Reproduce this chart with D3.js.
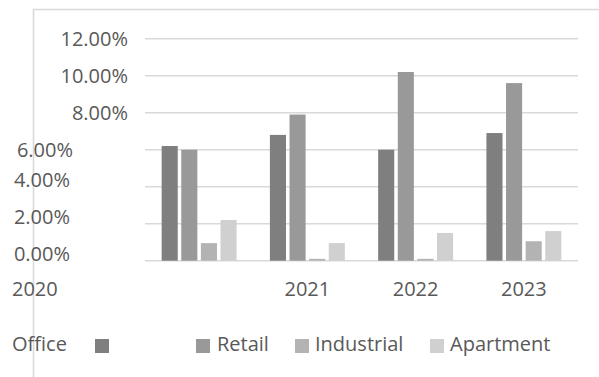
<!DOCTYPE html>
<html>
<head>
<meta charset="utf-8">
<script src="https://cdn.jsdelivr.net/npm/d3@7"></script>
<style>
  html, body { margin: 0; padding: 0; background: #fff; }
  svg { display: block; }
  text { font-family: "Open Sans", "Liberation Sans", sans-serif; font-size: 20px; fill: #595959; }
</style>
</head>
<body>
<svg id="chart" width="599" height="377"></svg>
<script>
// Vacancy rates by property type, 2020-2023
const years = ["2020", "2021", "2022", "2023"];
const seriesNames = ["Office", "Retail", "Industrial", "Apartment"];
const office = [6.2, 6.8, 6.0, 6.9];
const retail = [6.0, 7.9, 10.2, 9.6];
const industrial = [0.95, 0.1, 0.1, 1.05];
const apartment = [2.2, 0.95, 1.5, 1.6];
const yTicks = [0, 2, 4, 6, 8, 10, 12];
const tickFormat = v => v.toFixed(2) + "%";

const seriesValues = [office, retail, industrial, apartment];
const colors = ["#7f7f7f", "#999999", "#b3b3b3", "#d0d0d0"];

const svg = d3.select("#chart");

// Outer frame (top and left edges are visible)
svg.append("line").attr("x1", 33).attr("x2", 599).attr("y1", 9.5).attr("y2", 9.5)
  .attr("stroke", "#d9d9d9").attr("stroke-width", 1.6);
svg.append("line").attr("x1", 33.5).attr("x2", 33.5).attr("y1", 9).attr("y2", 377)
  .attr("stroke", "#d9d9d9").attr("stroke-width", 1.6);

const plotLeft = 145, plotRight = 578;
const y = d3.scaleLinear().domain([0, 12]).range([260.7, 38.7]);
const x0 = d3.scaleBand().domain(years).range([plotLeft, plotRight])
  .paddingInner(0.3077).paddingOuter(0.1538);
const x1 = d3.scaleBand().domain(seriesNames).range([0, x0.bandwidth()])
  .paddingInner(0.18).paddingOuter(0);

// Gridlines
svg.append("g").selectAll("line").data(yTicks).join("line")
  .attr("x1", plotLeft).attr("x2", plotRight)
  .attr("y1", d => y(d)).attr("y2", d => y(d))
  .attr("stroke", "#d9d9d9").attr("stroke-width", 1.6);

// Value axis labels
const yLabelPlace = v => {
  if (v >= 8) return { x: 128, dy: 0, anchor: "end" };
  if (v === 6) return { x: 73, dy: 0, anchor: "end" };
  return { x: 70, dy: -6.5, anchor: "end" };
};
svg.append("g").selectAll("text").data(yTicks).join("text")
  .attr("x", d => yLabelPlace(d).x)
  .attr("y", d => y(d) + yLabelPlace(d).dy + 7)
  .attr("text-anchor", d => yLabelPlace(d).anchor)
  .text(tickFormat);

// Bars
const groups = svg.append("g").selectAll("g").data(years).join("g")
  .attr("transform", d => `translate(${x0(d)},0)`);
groups.selectAll("rect")
  .data((yr, i) => seriesNames.map((s, j) => ({ s, j, v: seriesValues[j][i] })))
  .join("rect")
  .attr("x", d => x1(d.s))
  .attr("width", x1.bandwidth())
  .attr("y", d => y(d.v))
  .attr("height", d => y(0) - y(d.v))
  .attr("fill", d => colors[d.j]);

// Category labels
svg.append("g").selectAll("text").data(years).join("text")
  .attr("x", (d, i) => i === 0 ? 12 : x0(d) + x0.bandwidth() / 2)
  .attr("y", 296)
  .attr("text-anchor", (d, i) => i === 0 ? "start" : "middle")
  .text(d => d);

// Legend
const legendPlace = [
  { sx: 95, tx: 12 },
  { sx: 196, tx: 217 },
  { sx: 295, tx: 315 },
  { sx: 430, tx: 450 }
];
const legend = svg.append("g").selectAll("g").data(seriesNames).join("g");
legend.append("rect")
  .attr("x", (d, i) => legendPlace[i].sx).attr("y", 339)
  .attr("width", 14).attr("height", 14)
  .attr("fill", (d, i) => colors[i]);
legend.append("text")
  .attr("x", (d, i) => legendPlace[i].tx).attr("y", 351)
  .text(d => d);
</script>
</body>
</html>
